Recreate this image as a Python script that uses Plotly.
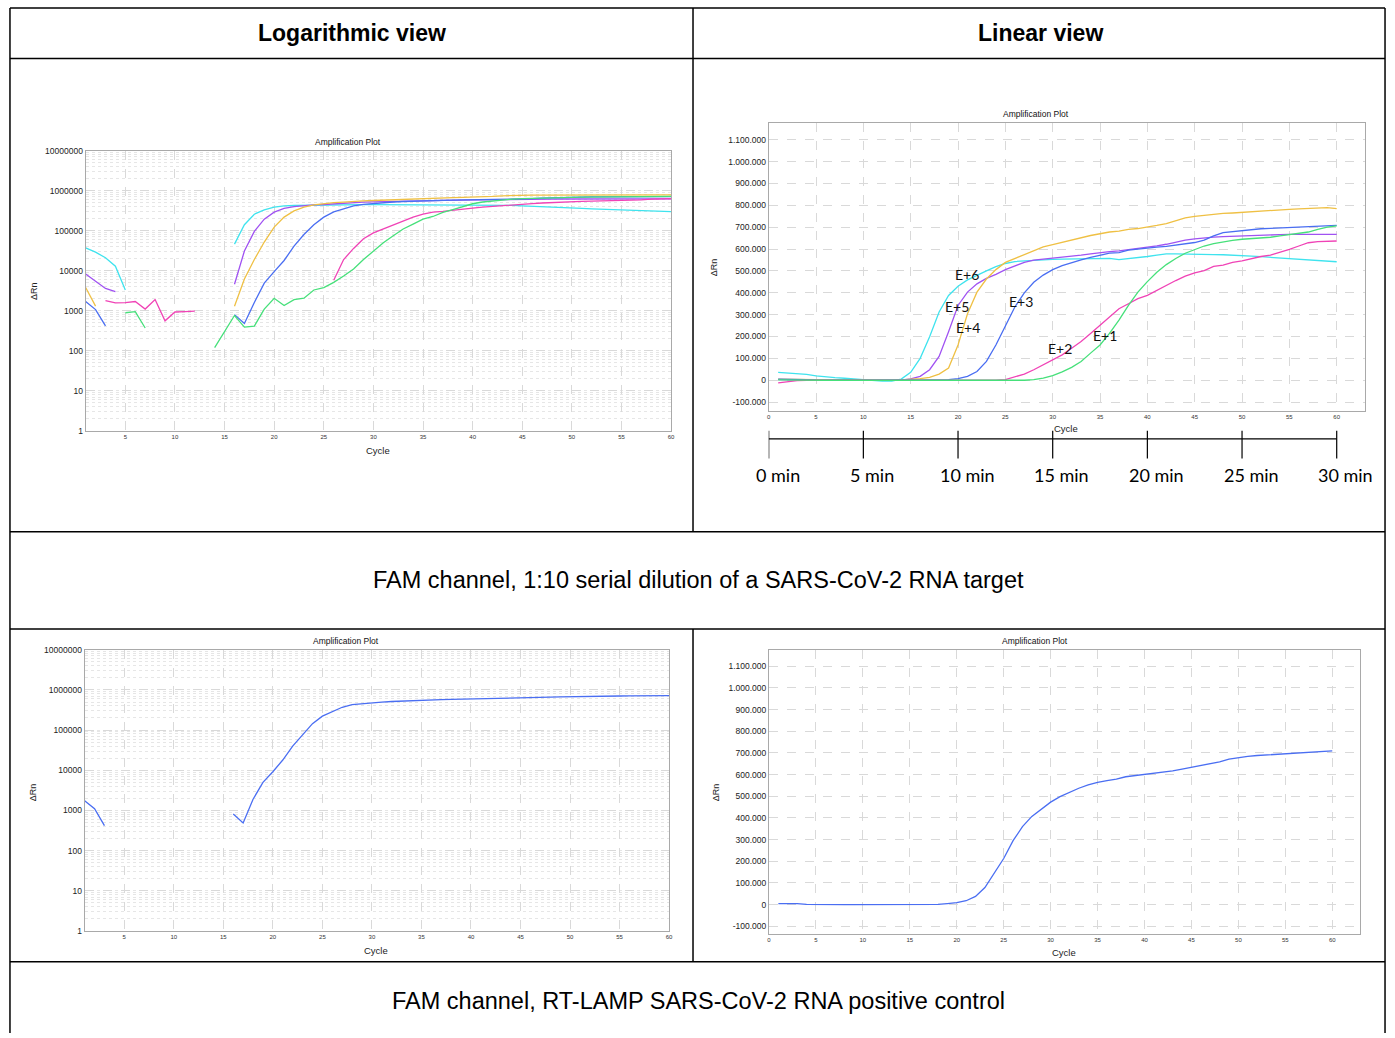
import plotly.graph_objects as go

# ---------------- data ----------------
cycles = list(range(1, 61))
series_names = ["E+6", "E+5", "E+4", "E+3", "E+2", "E+1"]
series_colors = ["#3FE3EE", "#A052F2", "#EFC044", "#4A6EF2", "#F043B6", "#46E07A"]

# Linear view (delta Rn), serial dilution
lin_e6 = [36000, 33000, 30000, 27000, 20000, 15000, 12000, 9000, 6000, 2000,
          -3000, -4000, -4000, 5000, 36000, 100000, 199000, 312000, 388000, 430000,
          459000, 478000, 500000, 520000, 534000, 543000, 546000, 550000, 553000, 553000,
          554000, 555000, 556000, 556000, 556000, 557000, 552000, 556000, 560000, 566000,
          572000, 578000, 578000, 578000, 578000, 577000, 575000, 574000, 573000, 572000,
          568000, 565000, 562000, 558000, 554000, 551000, 548000, 545000, 542000, 542000]
lin_e5 = [3000, 2000, 2000, 1000, 0, 0, 0, 0, 0, 0,
          -1000, -1000, -1000, 0, 6000, 18000, 48000, 109000, 222000, 342000,
          403000, 441000, 466000, 484000, 506000, 524000, 539000, 549000, 553000, 557000,
          562000, 566000, 572000, 578000, 584000, 588000, 592000, 597000, 602000, 607000,
          615000, 622000, 632000, 641000, 647000, 652000, 655000, 657000, 659000, 660000,
          662000, 663000, 665000, 666000, 667000, 667000, 667000, 667000, 667000, 667000]
lin_e4 = [5000, 4000, 3000, 2000, 1000, 0, 0, 0, 0, 0,
          -1000, -1000, -1000, 1000, 3000, 7000, 13000, 28000, 56000, 161000,
          304000, 403000, 463000, 506000, 539000, 557000, 572000, 590000, 610000, 620000,
          631000, 641000, 652000, 662000, 670000, 678000, 682000, 690000, 694000, 700000,
          708000, 716000, 728000, 743000, 750000, 755000, 761000, 763000, 765000, 768000,
          771000, 775000, 779000, 781000, 782000, 784000, 787000, 788000, 790000, 785000]
lin_e3 = [5000, 5000, 5000, 3000, 1000, 0, 0, 0, 0, 0,
          0, 0, 0, 0, 0, 0, 0, 1000, 3000, 7000,
          18000, 40000, 86000, 161000, 252000, 335000, 400000, 448000, 481000, 506000,
          524000, 539000, 551000, 562000, 572000, 581000, 584000, 595000, 600000, 606000,
          609000, 612000, 617000, 622000, 630000, 641000, 660000, 675000, 680000, 685000,
          689000, 693000, 695000, 697000, 700000, 702000, 704000, 706000, 708000, 708000]
lin_e2 = [-12000, -6000, -2000, 0, 0, 0, 0, 0, 0, 0,
          0, 0, 0, 0, 0, -3000, -3000, -3000, -3000, -3000,
          -3000, -3000, -2000, 0, 3000, 14000, 28000, 48000, 71000, 93000,
          116000, 146000, 177000, 214000, 252000, 290000, 327000, 350000, 373000, 388000,
          411000, 433000, 456000, 476000, 491000, 501000, 521000, 527000, 539000, 546000,
          557000, 566000, 572000, 584000, 599000, 614000, 629000, 634000, 637000, 637000]
lin_e1 = [2000, 1000, 0, 0, 0, 0, 0, 0, 0, 0,
          0, 0, 0, 0, 0, -1000, -1000, -1000, -1000, -1000,
          -1000, -1000, -1000, -1000, 0, 0, 0, 3000, 10000, 21000,
          38000, 59000, 86000, 124000, 161000, 214000, 275000, 342000, 403000, 451000,
          494000, 529000, 557000, 581000, 599000, 614000, 625000, 633000, 640000, 645000,
          647000, 649000, 654000, 660000, 666000, 672000, 678000, 690000, 700000, 706000]

# Logarithmic view (delta Rn), None = not plotted (non-positive)
N = None
log_e6 = [37000, 29000, 21000, 13000, 3300, N, N, N, N, N,
          N, N, N, N, N, 46000, 141000, 258000, 330000, 385000,
          415000, 425000, 430000, 435000, 440000, 442000, 443000, 445000, 445000, 445000,
          445000, 445000, 444000, 444000, 443000, 443000, 443000, 443000, 442000, 442000,
          440000, 438000, 435000, 430000, 418000, 405000, 395000, 385000, 375000, 368000,
          360000, 352000, 345000, 340000, 335000, 330000, 322000, 312000, 305000, 298000]
log_e5 = [8300, 5600, 3600, 3000, N, N, N, N, N, N,
          N, N, N, N, N, 4600, 31000, 96000, 194000, 290000,
          359000, 400000, 426000, 440000, 450000, 470000, 490000, 505000, 515000, 525000,
          535000, 545000, 550000, 555000, 560000, 565000, 570000, 576000, 582000, 588000,
          590000, 593000, 596000, 600000, 604000, 608000, 612000, 615000, 618000, 620000,
          620000, 620000, 620000, 620000, 620000, 620000, 620000, 620000, 620000, 620000]
log_e4 = [3800, 1300, N, N, N, N, N, N, N, N,
          N, N, N, N, N, 1300, 6200, 19000, 52000, 123000,
          218000, 312000, 385000, 440000, 475000, 500000, 515000, 540000, 555000, 566000,
          580000, 595000, 610000, 622000, 634000, 650000, 660000, 668000, 675000, 680000,
          695000, 715000, 740000, 760000, 770000, 772000, 774000, 775000, 776000, 777000,
          778000, 778000, 779000, 779000, 780000, 780000, 780000, 780000, 780000, 780000]
log_e3 = [1700, 1070, 420, N, N, N, N, N, N, N,
          N, N, N, N, N, 800, 480, 1600, 4900, 9500,
          18000, 41000, 80000, 140000, 218000, 295000, 358000, 418000, 455000, 480000,
          500000, 520000, 535000, 548000, 560000, 568000, 575000, 580000, 585000, 588000,
          595000, 600000, 606000, 612000, 620000, 632000, 648000, 662000, 672000, 680000,
          688000, 694000, 700000, 705000, 708000, 710000, 710000, 710000, 710000, 710000]
log_e2 = [N, N, 1800, 1580, 1600, 1700, 1100, 1900, 560, 930,
          950, 980, N, N, N, N, N, N, N, N,
          N, N, N, N, N, 5800, 19000, 36000, 63000, 88000,
          110000, 140000, 177000, 218000, 258000, 290000, 302000, 325000, 345000, 366000,
          385000, 405000, 425000, 442000, 459000, 475000, 490000, 505000, 520000, 535000,
          540000, 545000, 550000, 553000, 557000, 570000, 590000, 610000, 625000, 632000]
log_e1 = [N, N, N, N, 890, 950, 370, N, N, N,
          N, N, N, 120, 300, 760, 390, 415, 1100, 2050,
          1350, 1900, 2050, 3300, 3800, 5100, 7400, 11000, 19000, 31000,
          50000, 75000, 110000, 146000, 194000, 226000, 285000, 336000, 405000, 470000,
          520000, 555000, 585000, 610000, 632000, 645000, 655000, 665000, 672000, 680000,
          685000, 690000, 694000, 698000, 702000, 706000, 710000, 713000, 716000, 718000]

# Positive control
pc_log = [1750, 1100, 420, N, N, N, N, N, N, N,
          N, N, N, N, N, 820, 490, 1900, 5000, 9200,
          18000, 40000, 78000, 145000, 222000, 290000, 370000, 430000, 455000, 475000,
          495000, 515000, 530000, 545000, 556000, 565000, 572000, 580000, 590000, 600000,
          606000, 612000, 618000, 625000, 632000, 640000, 650000, 660000, 670000, 680000,
          686000, 692000, 697000, 702000, 706000, 710000, 713000, 716000, 718000, 720000]
pc_lin = [5000, 5000, 5000, 1000, 0, 0, 0, 0, 0, 0,
          0, 0, 0, 0, 0, 0, 0, 1000, 5000, 9000,
          18000, 38000, 79000, 145000, 213000, 295000, 360000, 407000, 442000, 473000,
          498000, 518000, 537000, 552000, 564000, 572000, 579000, 590000, 595000, 602000,
          608000, 613000, 617000, 625000, 633000, 640000, 648000, 659000, 671000, 678000,
          684000, 688000, 691000, 694000, 697000, 700000, 701000, 703000, 709000, 709000]

lin_series = [lin_e6, lin_e5, lin_e4, lin_e3, lin_e2, lin_e1]
log_series = [log_e6, log_e5, log_e4, log_e3, log_e2, log_e1]

log_tickvals = [1, 10, 100, 1000, 10000, 100000, 1000000, 10000000]
log_ticktext = ["1", "10", "100", "1000", "10000", "100000", "1000000", "10000000"]
lin_tickvals = [-100000, 0, 100000, 200000, 300000, 400000, 500000, 600000,
                700000, 800000, 900000, 1000000, 1100000]
lin_ticktext = ["-100.000", "0", "100.000", "200.000", "300.000", "400.000", "500.000",
                "600.000", "700.000", "800.000", "900.000", "1.000.000", "1.100.000"]
log_xticks = [5, 10, 15, 20, 25, 30, 35, 40, 45, 50, 55, 60]
lin_xticks = [0, 5, 10, 15, 20, 25, 30, 35, 40, 45, 50, 55, 60]

time_cycles = [0, 10, 20, 30, 40, 50, 60]
time_labels = ["0 min", "5 min", "10 min", "15 min", "20 min", "25 min", "30 min"]

# ---------------- figure ----------------
W, H = 1395, 1038
def px(x): return x / W
def py(y): return 1 - y / H

FONT = "Liberation Sans, Arial, sans-serif"
CAL = "Lato, Carlito, sans-serif"

fig = go.Figure()

for name, col, ys in zip(series_names, series_colors, log_series):
    fig.add_trace(go.Scatter(x=cycles, y=ys, mode="lines", name=name,
                             line=dict(color=col, width=1.3), xaxis="x", yaxis="y",
                             connectgaps=False))
for name, col, ys in zip(series_names, series_colors, lin_series):
    fig.add_trace(go.Scatter(x=cycles, y=ys, mode="lines", name=name,
                             line=dict(color=col, width=1.3), xaxis="x2", yaxis="y2"))
fig.add_trace(go.Scatter(x=cycles, y=pc_log, mode="lines", name="PC",
                         line=dict(color="#4A6EF2", width=1.3), xaxis="x3", yaxis="y3",
                         connectgaps=False))
fig.add_trace(go.Scatter(x=cycles, y=pc_lin, mode="lines", name="PC",
                         line=dict(color="#4A6EF2", width=1.3), xaxis="x4", yaxis="y4"))

ax = dict(showline=True, mirror=True, linecolor="#a9a9a9", linewidth=1,
          showgrid=True, gridcolor="#d9d9d9", griddash="dash", gridwidth=1,
          zeroline=False, ticks="", fixedrange=True)
xfont = dict(family=FONT, size=6, color="#333333")
yfont = dict(family=FONT, size=8.5, color="#222222")

def xlog(domain, anchor):
    return dict(ax, domain=domain, anchor=anchor, range=[1, 60], tickvals=log_xticks,
                tickfont=xfont)

def ylog(domain, anchor):
    return dict(ax, type="log", domain=domain, anchor=anchor, range=[0, 7],
                tickvals=log_tickvals, ticktext=log_ticktext, tickfont=yfont,
                minor=dict(dtick="D1", showgrid=True, gridcolor="#e6e6e6",
                           griddash="dot", gridwidth=1, ticks=""))

def xlin(domain, anchor):
    return dict(ax, domain=domain, anchor=anchor, range=[0, 63], tickvals=lin_xticks,
                tickfont=xfont)

def ylin(domain, anchor, rng):
    return dict(ax, domain=domain, anchor=anchor, range=rng, tickvals=lin_tickvals,
                ticktext=lin_ticktext, tickfont=yfont)

fig.update_layout(
    width=W, height=H, margin=dict(l=0, r=0, t=0, b=0),
    paper_bgcolor="white", plot_bgcolor="white", showlegend=False,
    font=dict(family=FONT, color="#000000"),
    xaxis=xlog([px(84), px(672)], "y"),
    yaxis=ylog([py(430), py(147)], "x"),
    xaxis2=xlin([px(770), px(1369)], "y2"),
    yaxis2=ylin([py(410), py(119.3)], "x2", [-141000, 1176000]),
    xaxis3=xlog([px(83), px(670)], "y3"),
    yaxis3=ylog([py(935), py(651)], "x3"),
    xaxis4=xlin([px(770.3), px(1364.3)], "y4"),
    yaxis4=ylin([py(938.3), py(651)], "x4", [-136600, 1176000]),
)

ann = []
def text(x, y, t, size, bold=False, family=FONT, angle=0, color="#000000"):
    ann.append(dict(x=px(x), y=py(y), xref="paper", yref="paper", text=f"<b>{t}</b>" if bold else t,
                    showarrow=False, xanchor="center", yanchor="middle", textangle=angle,
                    font=dict(family=family, size=size, color=color)))

text(352, 28, "Logarithmic view", 23, bold=True)
text(1043, 28, "Linear view", 23, bold=True)
text(700, 581, "FAM channel, 1:10 serial dilution of a SARS-CoV-2 RNA target", 23.5)
text(700, 1006, "FAM channel, RT-LAMP SARS-CoV-2 RNA positive control", 23.5)

for (tx, ty) in [(347, 138), (1038, 110), (345, 642), (1037, 642)]:
    text(tx, ty, "Amplification Plot", 8.5, color="#111111")
for (tx, ty) in [(32, 289), (716, 265), (31, 795), (717, 795)]:
    text(tx, ty, "ΔRn", 9, angle=-90, color="#222222")
for (tx, ty) in [(378, 450), (1069, 428), (376, 955), (1067, 957)]:
    text(tx, ty, "Cycle", 9.5, color="#222222")

# dilution labels on the linear plot
label_pos = [(21.0, 484000), (19.9, 335000), (21.1, 240000),
             (26.6, 362000), (30.8, 145000), (35.5, 203000)]
for name, (lx, ly) in zip(series_names, label_pos):
    ann.append(dict(x=lx, y=ly, xref="x2", yref="y2", text=name, showarrow=False,
                    xanchor="center", yanchor="middle",
                    font=dict(family=CAL, size=14, color="#111111")))

# time scale under linear plot
for c, lab in zip(time_cycles, time_labels):
    ann.append(dict(x=c, y=py(475), xref="x2", yref="paper", text=lab, showarrow=False,
                    xanchor="center", yanchor="middle", xshift=9,
                    font=dict(family=CAL, size=18, color="#000000")))

shapes = []
shapes.append(dict(type="line", xref="x2", yref="paper", x0=time_cycles[0], x1=time_cycles[-1],
                   y0=py(438), y1=py(438), line=dict(color="#000000", width=1.2)))
for c in time_cycles:
    shapes.append(dict(type="line", xref="x2", yref="paper", x0=c, x1=c,
                       y0=py(430), y1=py(458), line=dict(color="#000000", width=1.2)))

# table frame
def hline(y, x0=8, x1=1389):
    shapes.append(dict(type="line", xref="paper", yref="paper", x0=px(x0), x1=px(x1),
                       y0=py(y), y1=py(y), line=dict(color="#000000", width=1.5)))
def vline(x, y0, y1):
    shapes.append(dict(type="line", xref="paper", yref="paper", x0=px(x), x1=px(x),
                       y0=py(y0), y1=py(y1), line=dict(color="#000000", width=1.5)))

for yy in [3, 54, 532, 630, 966]:
    hline(yy)
vline(8, 3, 1038)
vline(1389, 3, 1038)
vline(694, 3, 532)
vline(694, 630, 966)

fig.update_layout(annotations=ann, shapes=shapes)
fig.write_html("out.html",
               config={"displayModeBar": False},
               post_script="document.body.style.margin='0';document.body.style.padding='0';"
                           "document.documentElement.style.overflow='hidden';"
                           "document.body.style.overflow='hidden';")
